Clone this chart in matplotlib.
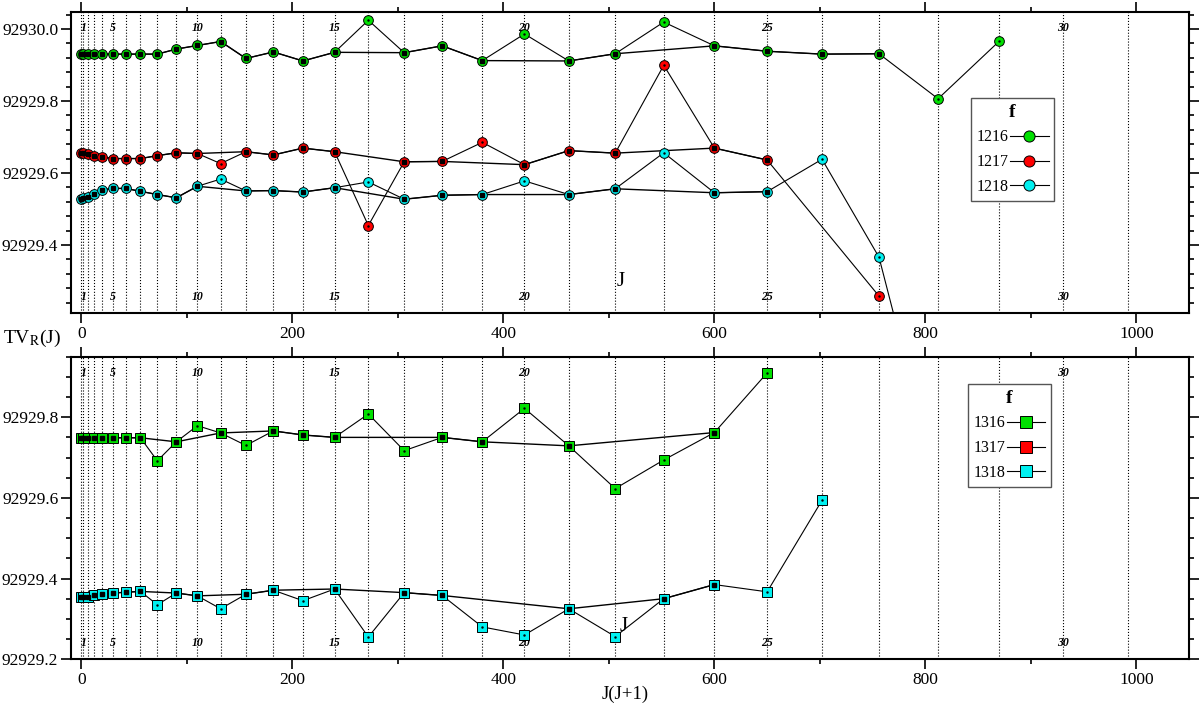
import numpy as np
import matplotlib
matplotlib.use('Agg')
import matplotlib.pyplot as plt
from matplotlib.lines import Line2D
from matplotlib.ticker import MultipleLocator, FormatStrFormatter

plt.rcParams['font.family'] = 'serif'
plt.rcParams['font.serif'] = ['Liberation Serif', 'DejaVu Serif']
plt.rcParams['mathtext.fontset'] = 'stix'

# guide lines at J(J+1), labelled J values
J_grid = list(range(0, 32))
J_marked = [1, 5, 10, 15, 20, 25, 30]

# upper panel (circles)
J_1216 = list(range(0, 30))
tv_1216 = [92929.930, 92929.930, 92929.930, 92929.930, 92929.930, 92929.930,
           92929.930, 92929.930, 92929.930, 92929.944, 92929.954, 92929.965,
           92929.918, 92929.936, 92929.911, 92929.935, 92930.024, 92929.934,
           92929.953, 92929.912, 92929.986, 92929.911, 92929.931, 92930.019,
           92929.953, 92929.938, 92929.930, 92929.931, 92929.806, 92929.966]
bad_1216 = [16, 20, 23, 28, 29]

J_1217 = list(range(0, 28))
tv_1217 = [92929.656, 92929.655, 92929.653, 92929.648, 92929.644, 92929.640,
           92929.640, 92929.640, 92929.648, 92929.656, 92929.654, 92929.626,
           92929.659, 92929.650, 92929.669, 92929.659, 92929.454, 92929.631,
           92929.632, 92929.685, 92929.623, 92929.662, 92929.655, 92929.899,
           92929.669, 92929.636, np.nan, 92929.258]
bad_1217 = [11, 16, 19, 23, 27]

J_1218 = list(range(0, 29))
tv_1218 = [92929.528, 92929.531, 92929.534, 92929.542, 92929.553, 92929.557,
           92929.557, 92929.549, 92929.540, 92929.531, 92929.563, 92929.583,
           92929.550, 92929.551, 92929.547, 92929.559, 92929.575, 92929.527,
           92929.538, 92929.540, 92929.578, 92929.540, 92929.556, 92929.656,
           92929.545, 92929.548, 92929.638, 92929.366, 92928.730]
bad_1218 = [11, 16, 20, 23, 26, 27, 28]

# lower panel (squares)
J_1316 = list(range(0, 26))
tv_1316 = [92929.749, 92929.749, 92929.749, 92929.749, 92929.749, 92929.749,
           92929.749, 92929.749, 92929.692, 92929.739, 92929.779, 92929.761,
           92929.730, 92929.766, 92929.756, 92929.750, 92929.808, 92929.717,
           92929.750, 92929.739, 92929.822, 92929.729, 92929.623, 92929.694,
           92929.762, 92929.910]
bad_1316 = [8, 10, 12, 16, 17, 20, 22, 23, 25]

J_1318 = list(range(0, 27))
tv_1318 = [92929.353, 92929.353, 92929.355, 92929.359, 92929.361, 92929.364,
           92929.366, 92929.368, 92929.335, 92929.364, 92929.357, 92929.325,
           92929.361, 92929.371, 92929.345, 92929.374, 92929.255, 92929.365,
           92929.358, 92929.280, 92929.260, 92929.325, 92929.256, 92929.350,
           92929.385, 92929.367, 92929.594]
bad_1318 = [8, 11, 14, 16, 19, 20, 22, 25, 26]

labels_top = ['1216', '1217', '1218']
labels_bot = ['1316', '1317', '1318']
c_green, c_red, c_cyan = '#00e000', '#ff0000', '#00f0f0'


def draw_series(ax, J, tv, bad, color, marker):
    J = np.asarray(J)
    tv = np.asarray(tv, dtype=float)
    x = J * (J + 1)
    ok = ~np.isnan(tv)
    good = ok & ~np.isin(J, bad)
    outl = ok & np.isin(J, bad)
    ax.plot(x[ok], tv[ok], color='k', lw=0.8, zorder=3)
    ax.plot(x[good], tv[good], color='k', lw=1.0, zorder=3)
    ax.plot(x[ok], tv[ok], ls='none', marker=marker, ms=7, mfc=color,
            mec='k', mew=0.7, zorder=4)
    ax.plot(x[good], tv[good], ls='none', marker='s', ms=2.8, color='k', zorder=5)
    ax.plot(x[outl], tv[outl], ls='none', marker='.', ms=1.5, color='k', zorder=5)


def style_axes(ax, ylim, minor):
    ax.set_xlim(-10, 1050)
    ax.set_ylim(*ylim)
    ax.xaxis.set_major_locator(MultipleLocator(200))
    ax.xaxis.set_minor_locator(MultipleLocator(100))
    ax.yaxis.set_major_locator(MultipleLocator(0.2))
    ax.yaxis.set_minor_locator(MultipleLocator(minor))
    ax.yaxis.set_major_formatter(FormatStrFormatter('%.1f'))
    ax.tick_params(which='both', direction='out', top=True, right=True,
                   labelsize=12.5, width=1.2, pad=2)
    ax.tick_params(which='major', length=7)
    ax.tick_params(which='minor', length=3.5)
    for s in ax.spines.values():
        s.set_linewidth(1.5)
    for j in J_grid:
        ax.axvline(j * (j + 1), color='k', ls=':', lw=0.8, zorder=1)
    tr = ax.get_xaxis_transform()
    for j in J_marked:
        for yf in (0.947, 0.053):
            ax.text(j * (j + 1), yf, str(j), transform=tr, ha='center',
                    va='center', fontsize=8.5, style='italic', weight='bold')


def add_legend(ax, fig, labels, marker, anchor):
    handles = [Line2D([], [], color='k', lw=0.8, marker=marker, ms=8,
                      mfc=c, mec='k', mew=0.7)
               for c in (c_green, c_red, c_cyan)]
    leg = ax.legend(handles, labels, title='f', loc='upper left',
                    bbox_to_anchor=anchor, bbox_transform=fig.transFigure,
                    borderaxespad=0, markerfirst=False, fancybox=False,
                    framealpha=1, edgecolor='#555555', handlelength=2.4,
                    handletextpad=0.1, borderpad=0.35, labelspacing=0.55,
                    fontsize=11.5,
                    title_fontproperties={'weight': 'bold', 'size': 14})
    leg.get_frame().set_linewidth(1.0)


fig = plt.figure(figsize=(12, 7.05), dpi=100)
ax1 = fig.add_axes([0.059, 0.556, 0.932, 0.427])
ax2 = fig.add_axes([0.059, 0.065, 0.932, 0.429])

style_axes(ax1, (92929.211, 92930.047), 0.04)
draw_series(ax1, J_1216, tv_1216, bad_1216, c_green, 'o')
draw_series(ax1, J_1217, tv_1217, bad_1217, c_red, 'o')
draw_series(ax1, J_1218, tv_1218, bad_1218, c_cyan, 'o')
ax1.text(511, 0.104, 'J', transform=ax1.get_xaxis_transform(), ha='center',
         va='center', fontsize=15)
add_legend(ax1, fig, labels_top, 'o', (971 / 1200, 1 - 98 / 705))

style_axes(ax2, (92929.2, 92929.95), 0.05)
draw_series(ax2, J_1316, tv_1316, bad_1316, c_green, 's')
draw_series(ax2, J_1318, tv_1318, bad_1318, c_cyan, 's')
ax2.text(514, 0.108, 'J', transform=ax2.get_xaxis_transform(), ha='center',
         va='center', fontsize=15)
add_legend(ax2, fig, labels_bot, 's', (968 / 1200, 1 - 384 / 705))

fig.text(3 / 1200, 1 - 338 / 705, r'TV$_{\mathrm{R}}$(J)', fontsize=14,
         ha='left', va='center')
fig.text(625 / 1200, 1 - 694 / 705, 'J(J+1)', fontsize=13.5, ha='center',
         va='center')

fig.savefig('out.png', dpi=100)
